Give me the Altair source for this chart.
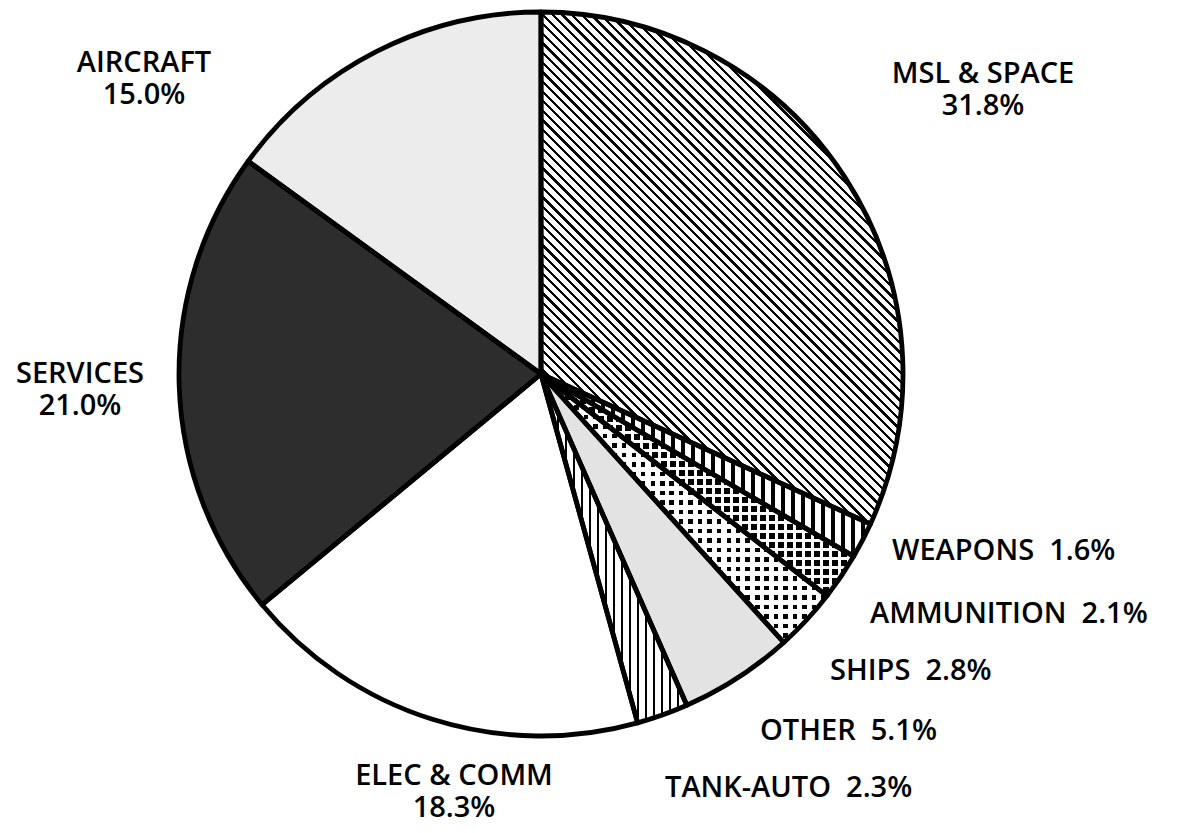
import math
import altair as alt
import pandas as pd

# ---------------- data ----------------
categories = ["MSL & SPACE", "WEAPONS", "AMMUNITION", "SHIPS", "OTHER",
              "TANK-AUTO", "ELEC & COMM", "SERVICES", "AIRCRAFT"]
shares = [31.8, 1.6, 2.1, 2.8, 5.1, 2.3, 18.3, 21.0, 15.0]

TOTAL = sum(shares)
multi_line = {"MSL & SPACE", "ELEC & COMM", "SERVICES", "AIRCRAFT"}
labels = [f"{c}\n{v:.1f}%" if c in multi_line else f"{c}\u00a0 {v:.1f}%"
          for c, v in zip(categories, shares)]

df = pd.DataFrame({"category": categories, "share": shares,
                   "order": list(range(len(categories))), "label": labels})

# ---------------- layout / style ----------------
W_CH, H_CH = 1162, 817
CX, CY, R = 533, 366, 362
FONT = "Open Sans"

base_fill = {
    "MSL & SPACE": "white", "WEAPONS": "white", "AMMUNITION": "black",
    "SHIPS": "black", "OTHER": "#e3e3e3", "TANK-AUTO": "white",
    "ELEC & COMM": "white", "SERVICES": "#2d2d2d", "AIRCRAFT": "#ececec",
}

# cumulative angles (degrees) only used to size stripe gradients
angles = {}
acc = 0.0
for c, v in zip(categories, shares):
    a0 = acc / TOTAL * 360
    acc += v
    angles[c] = (a0, acc / TOTAL * 360)

CLEAR = "rgba(255,255,255,0)"


def stripes(cat, angle, period, ink, ink_color, bg_color):
    a0, a1 = angles[cat]
    pts = [(0.0, 0.0)]
    angs = [a0, a1] + [k * 90 for k in range(5) if a0 < k * 90 < a1]
    for a in angs:
        t = math.radians(a)
        pts.append((R * math.sin(t), -R * math.cos(t)))
    xs = [p[0] for p in pts]
    ys = [p[1] for p in pts]
    W = max(xs) - min(xs)
    H = max(ys) - min(ys)
    th = math.radians(angle)
    dx, dy = math.cos(th), math.sin(th)
    gb = (dy / H, -dx / W)
    corners = [(0, 0), (1, 0), (0, 1), (1, 1)]
    ts = [c[0] * gb[0] + c[1] * gb[1] for c in corners]
    i0 = ts.index(min(ts))
    span = max(ts) - min(ts)
    g2 = gb[0] ** 2 + gb[1] ** 2
    p1 = corners[i0]
    p2 = (p1[0] + gb[0] * span / g2, p1[1] + gb[1] * span / g2)
    ss = [c[0] * W * (-dy) + c[1] * H * dx for c in corners]
    S = max(ss) - min(ss)
    stops = []
    k = 0
    while True:
        o = k * period / S
        if o >= 1:
            break
        e = min(1.0, o + ink / S)
        nxt = min(1.0, (k + 1) * period / S)
        stops += [
            alt.GradientStop(color=ink_color, offset=round(o, 6)),
            alt.GradientStop(color=ink_color, offset=round(e, 6)),
            alt.GradientStop(color=bg_color, offset=round(e, 6)),
            alt.GradientStop(color=bg_color, offset=round(nxt, 6)),
        ]
        k += 1
    return alt.LinearGradient(gradient="linear", stops=stops,
                              x1=p1[0], y1=p1[1], x2=p2[0], y2=p2[1])


base = (
    alt.Chart(df)
    .transform_window(cum="sum(share)", sort=[alt.SortField("order")], frame=[None, 0])
    .transform_calculate(start="datum.cum - datum.share")
)

theta_enc = dict(
    theta=alt.Theta("start:Q", scale=alt.Scale(domain=[0, TOTAL], nice=False, zero=True)),
    theta2=alt.Theta2("cum:Q"),
)

fills = base.mark_arc(radius=R, x=CX, y=CY).encode(
    color=alt.Color("category:N",
                    scale=alt.Scale(domain=categories,
                                    range=[base_fill[c] for c in categories]),
                    legend=None),
    **theta_enc,
)


def overlay(cat, grad):
    return (base.transform_filter(alt.datum.category == cat)
            .mark_arc(radius=R, x=CX, y=CY, fill=grad)
            .encode(**theta_enc))


layers = [fills]
layers.append(overlay("MSL & SPACE", stripes("MSL & SPACE", 45, 6.8, 2.3, "black", "white")))
layers.append(overlay("WEAPONS", stripes("WEAPONS", 90, 10, 3.8, "black", "white")))
layers.append(overlay("TANK-AUTO", stripes("TANK-AUTO", 90, 8, 2.4, "black", "white")))
# dot patterns: black base, white stripes with clear gaps both ways
layers.append(overlay("SHIPS", stripes("SHIPS", 90, 9.5, 5.0, "white", CLEAR)))
layers.append(overlay("SHIPS", stripes("SHIPS", 0, 9.5, 5.0, "white", CLEAR)))
layers.append(overlay("AMMUNITION", stripes("AMMUNITION", 90, 9, 3.2, "white", CLEAR)))
layers.append(overlay("AMMUNITION", stripes("AMMUNITION", 0, 9, 3.2, "white", CLEAR)))

outline = base.mark_arc(radius=R, x=CX, y=CY, fill="white", fillOpacity=0,
                        stroke="black", strokeWidth=4.8,
                        strokeJoin="round").encode(**theta_enc)
layers.append(outline)

label_pos = {
    "MSL & SPACE": (975, 75, "center"),
    "AIRCRAFT": (136, 64, "center"),
    "SERVICES": (72, 375, "center"),
    "WEAPONS": (884, 552, "left"),
    "AMMUNITION": (862, 615, "left"),
    "SHIPS": (822, 672, "left"),
    "OTHER": (752, 732, "left"),
    "TANK-AUTO": (657, 789, "left"),
    "ELEC & COMM": (446, 777, "center"),
}

for cat in categories:
    x, y, al = label_pos[cat]
    layers.append(
        alt.Chart(df).transform_filter(alt.datum.category == cat)
        .mark_text(x=x, y=y, align=al, baseline="alphabetic", lineBreak="\n",
                   lineHeight=32, font=FONT, fontSize=29, fontWeight=600,
                   color="black")
        .encode(text="label:N")
    )

chart = (
    alt.layer(*layers)
    .properties(width=W_CH, height=H_CH, padding=0,
                autosize=alt.AutoSizeParams(type="none"))
    .configure_view(strokeWidth=0)
)

chart.save("out.html", embed_options={"renderer": "svg", "actions": False})
